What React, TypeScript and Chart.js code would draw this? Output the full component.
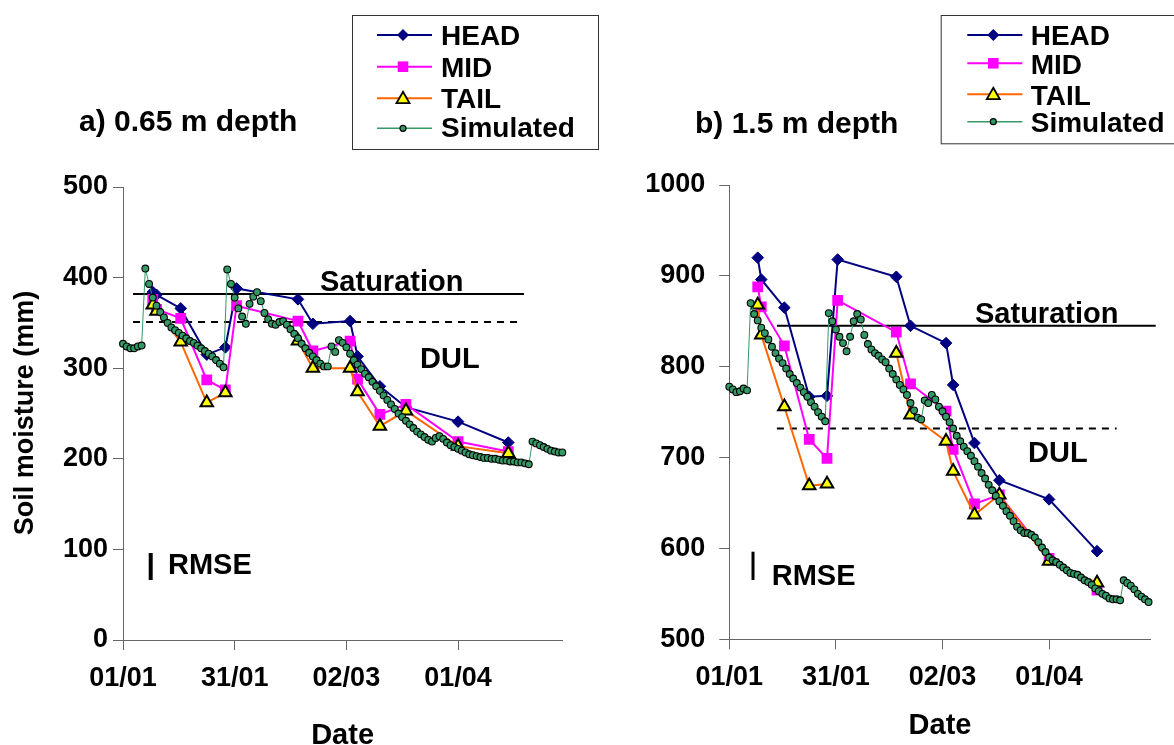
import React, { useEffect, useRef } from 'react';
import { Chart, registerables } from 'chart.js';

Chart.register(...registerables);

// ---------------- DATA ----------------
// day offsets from 01/01
const measDays = [8, 9, 15.5, 22.5, 27.5, 30.5, 47, 51, 61, 63, 69, 76, 90, 103.5];

// a) 0.65 m depth
const headA = [384, 381, 366, 315, 323, 388, 376, 349, 352, 313, 280, 257, 241, 218];
const midA = [376, 365, 355, 287, 276, 369, 352, 319, 330, 288, 249, 260, 219, 208];
const tailA = [370, 363, 329, 262, 273, null, 330, 300, 300, 274, 236, 253, 214, 206];
const simA = [
  327, 324, 322, 322, 324, 325, 410, 393, 378, 369, 362, 356, 350, 345, 342, 339, 336, 333, 330, 328,
  325, 322, 319, 316, 313, 309, 305, 301, 409, 393, 378, 366, 357, 349, 371, 379, 384, 374, 361, 354,
  349, 348, 351, 352, 348, 343, 338, 333, 327, 322, 317, 313, 309, 305, 302, 302, 324, 318, 331, 328,
  323, 316, 309, 304, 299, 294, 290, 285, 280, 275, 270, 265, 260, 255, 250, 246, 242, 238, 234, 230,
  227, 224, 221, 219, 223, 225, 222, 218, 215, 213, 211, 209, 207, 205, 204, 203, 202, 201, 201, 200,
  200, 199, 198, 198, 197, 197, 196, 196, 195, 194, 219, 217, 215, 213, 211, 209, 208, 207, 207, 205,
  204,
];
const satA = 382;
const dulA = 351;
const satSpanA = [2.7, 107.7];
const dulSpanA = [2.7, 106.4];

// b) 1.5 m depth
const headB = [920, 896, 865, 767, 768, 918, 899, 845, 826, 780, 716, 675, 654, 597];
const midB = [888, 866, 823, 720, 699, 873, 838, 781, 751, 709, 649, 659, 589, 554];
const tailB = [868, 835, 756, 669, 671, null, 815, 747, 718, 685, 637, 659, 586, 562];
const simB = [
  778, 775, 772, 773, 776, 774, 870, 858, 851, 843, 837, 830, 822, 815, 809, 804, 798, 792, 787, 782,
  777, 772, 767, 761, 756, 750, 745, 740, 859, 850, 841, 833, 826, 817, 833, 850, 858, 852, 835, 825,
  819, 815, 812, 808, 805, 798, 792, 786, 780, 775, 769, 760, 752, 744, 742, 763, 760, 769, 764, 756,
  751, 745, 739, 732, 724, 718, 712, 707, 702, 696, 690, 683, 677, 670, 664, 658, 652, 647, 641, 636,
  630, 624, 620, 617, 617, 615, 612, 607, 601, 596, 590, 587, 585, 582, 579, 576, 573, 572, 571, 568,
  565, 563, 560, 556, 553, 550, 548, 545, 544, 544, 543, 565, 562, 559, 555, 550, 547, 544, 541, 538,
  536,
];
const satB = 845;
const dulB = 732;
const satSpanB = [13.4, 120];
const dulSpanB = [13.4, 109];

const tickDays = [0, 30, 60, 90];
const tickLabels = ['01/01', '31/01', '02/03', '01/04'];
const seriesNames = ['HEAD', 'MID', 'TAIL', 'Simulated'];

// ---------------- STYLE ----------------
const FONT = '"Liberation Sans", Arial, Helvetica, sans-serif';
const NAVY = '#000080';
const MAG = '#FF00FF';
const ORANGE = '#FF6600';
const YELLOW = '#FFFF00';
const GREEN = '#339966';
const AXIS = '#666666';

type Row = { marker: string; color: string; fill: string; border: string; lw: number; r: number; cy: number; by: number };

function drawMarker(ctx: CanvasRenderingContext2D, kind: string, x: number, y: number, r: number, fill: string, border: string, bw: number) {
  ctx.beginPath();
  if (kind === 'diamond') {
    ctx.moveTo(x - r, y);
    ctx.lineTo(x, y - r);
    ctx.lineTo(x + r, y);
    ctx.lineTo(x, y + r);
    ctx.closePath();
  } else if (kind === 'square') {
    ctx.rect(x - r, y - r, 2 * r, 2 * r);
  } else if (kind === 'triangle') {
    ctx.moveTo(x, y - r);
    ctx.lineTo(x + 0.866 * r, y + 0.5 * r);
    ctx.lineTo(x - 0.866 * r, y + 0.5 * r);
    ctx.closePath();
  } else {
    ctx.arc(x, y, r, 0, Math.PI * 2);
  }
  ctx.fillStyle = fill;
  ctx.fill();
  if (bw > 0) {
    ctx.lineWidth = bw;
    ctx.strokeStyle = border;
    ctx.stroke();
  }
}

interface PanelSpec {
  head: (number | null)[];
  mid: (number | null)[];
  tail: (number | null)[];
  sim: number[];
  sat: number;
  dul: number;
  satSpan: number[];
  dulSpan: number[];
  yMin: number;
  yMax: number;
  xMax: number;
  yAxisWidth: number;
  tickPad: number;
  padTop: number;
  padRight: number;
  xAxisHeight: number;
  title: { text: string; x: number; y: number };
  legend: { x: number; y: number; w: number; h: number; l0: number; l1: number; mx: number; tx: number; cys: number[]; bys: number[] };
  labels: { t: string; x: number; y: number }[];
  rmse: { x: number; y0: number; y1: number; w: number; tx: number; ty: number };
  xTitle: { x: number; y: number };
  yTitle?: { x: number; y: number };
}

function buildConfig(p: PanelSpec): any {
  const pts = (vals: (number | null)[]) => measDays.map((d, i) => ({ x: d, y: vals[i] }));
  const simPts = p.sim.map((v, i) => ({ x: i, y: v }));
  const seg = (span: number[], v: number) => span.map((x) => ({ x, y: v }));

  const deco = {
    id: 'deco',
    afterDraw(chart: any) {
      const ctx: CanvasRenderingContext2D = chart.ctx;
      ctx.save();
      ctx.fillStyle = '#000';
      ctx.textBaseline = 'alphabetic';
      ctx.textAlign = 'left';
      // title
      ctx.font = `bold 30px ${FONT}`;
      ctx.fillText(p.title.text, p.title.x, p.title.y);
      // labels
      ctx.font = `bold 29px ${FONT}`;
      p.labels.forEach((l) => ctx.fillText(l.t, l.x, l.y));
      // RMSE
      ctx.fillText('RMSE', p.rmse.tx, p.rmse.ty);
      ctx.beginPath();
      ctx.lineWidth = p.rmse.w;
      ctx.strokeStyle = '#000';
      ctx.moveTo(p.rmse.x, p.rmse.y0);
      ctx.lineTo(p.rmse.x, p.rmse.y1);
      ctx.stroke();
      // x title
      ctx.textAlign = 'center';
      ctx.fillText('Date', p.xTitle.x, p.xTitle.y);
      // y title
      if (p.yTitle) {
        ctx.save();
        ctx.translate(p.yTitle.x, p.yTitle.y);
        ctx.rotate(-Math.PI / 2);
        ctx.textBaseline = 'middle';
        ctx.font = `bold 27px ${FONT}`;
        ctx.fillText('Soil moisture (mm)', 0, 0);
        ctx.restore();
      }
      // legend
      const L = p.legend;
      ctx.fillStyle = '#fff';
      ctx.fillRect(L.x, L.y, L.w, L.h);
      ctx.lineWidth = 1;
      ctx.strokeStyle = '#333';
      ctx.strokeRect(L.x + 0.5, L.y + 0.5, L.w, L.h);
      const rows: Row[] = [
        { marker: 'diamond', color: NAVY, fill: NAVY, border: NAVY, lw: 2, r: 6, cy: L.cys[0], by: L.bys[0] },
        { marker: 'square', color: MAG, fill: MAG, border: MAG, lw: 2, r: 5.3, cy: L.cys[1], by: L.bys[1] },
        { marker: 'triangle', color: ORANGE, fill: YELLOW, border: '#000', lw: 2, r: 7.5, cy: L.cys[2], by: L.bys[2] },
        { marker: 'circle', color: GREEN, fill: GREEN, border: '#000', lw: 1.5, r: 3, cy: L.cys[3], by: L.bys[3] },
      ];
      rows.forEach((r, i) => {
        ctx.beginPath();
        ctx.lineWidth = r.lw;
        ctx.strokeStyle = r.color;
        ctx.moveTo(L.l0, r.cy);
        ctx.lineTo(L.l1, r.cy);
        ctx.stroke();
        const bw = r.marker === 'triangle' ? 1.8 : r.marker === 'circle' ? 1.2 : 0;
        drawMarker(ctx, r.marker, L.mx, r.marker === 'triangle' ? r.cy + 1 : r.cy, r.r, r.fill, r.border, bw);
        ctx.fillStyle = '#000';
        ctx.textAlign = 'left';
        ctx.font = `bold 28px ${FONT}`;
        ctx.fillText(seriesNames[i], L.tx, r.by);
      });
      ctx.restore();
    },
  };

  return {
    type: 'line',
    data: {
      datasets: [
        { label: 'Saturation', data: seg(p.satSpan, p.sat), borderColor: '#000', borderWidth: 2, pointRadius: 0, clip: false, order: 10 },
        { label: 'DUL', data: seg(p.dulSpan, p.dul), borderColor: '#000', borderWidth: 2, borderDash: [7, 6], pointRadius: 0, clip: false, order: 10 },
        {
          label: seriesNames[0], data: pts(p.head), borderColor: NAVY, borderWidth: 2, pointStyle: 'rectRot', pointRadius: 5.8,
          pointBackgroundColor: NAVY, pointBorderColor: NAVY, pointBorderWidth: 1, order: 4,
        },
        {
          label: seriesNames[1], data: pts(p.mid), borderColor: MAG, borderWidth: 2, pointStyle: 'rect', pointRadius: 7.6,
          pointBackgroundColor: MAG, pointBorderColor: MAG, pointBorderWidth: 0, order: 3,
        },
        {
          label: seriesNames[2], data: pts(p.tail), borderColor: ORANGE, borderWidth: 2, pointStyle: 'triangle', pointRadius: 7.2,
          pointBackgroundColor: YELLOW, pointBorderColor: '#000', pointBorderWidth: 2, order: 2,
        },
        {
          label: seriesNames[3], data: simPts, borderColor: GREEN, borderWidth: 1, pointStyle: 'circle',
          pointRadius: (c: any) => (c.raw && c.raw.x > p.xMax ? 0 : 3.4),
          pointBackgroundColor: GREEN, pointBorderColor: '#000', pointBorderWidth: 1.1, clip: false, order: 1,
        },
      ],
    },
    options: {
      responsive: false,
      maintainAspectRatio: false,
      animation: false,
      devicePixelRatio: 1,
      events: [],
      layout: { autoPadding: false, padding: { left: 0, top: p.padTop, right: p.padRight, bottom: 0 } },
      elements: { line: { tension: 0 } },
      plugins: { legend: { display: false }, tooltip: { enabled: false }, title: { display: false } },
      scales: {
        x: {
          type: 'linear',
          min: 0,
          max: p.xMax,
          afterFit: (s: any) => { s.height = p.xAxisHeight; },
          afterBuildTicks: (s: any) => { s.ticks = tickDays.map((v) => ({ value: v })); },
          grid: { drawOnChartArea: false, drawTicks: true, tickLength: 10, color: AXIS, lineWidth: 1 },
          border: { display: true, color: AXIS, width: 1 },
          ticks: {
            autoSkip: false, maxRotation: 0, padding: 12, color: '#000',
            font: { family: FONT, size: 27, weight: 'bold' },
            callback: (v: any) => { const i = tickDays.indexOf(Number(v)); return i >= 0 ? tickLabels[i] : ''; },
          },
        },
        y: {
          type: 'linear',
          min: p.yMin,
          max: p.yMax,
          afterFit: (s: any) => { s.width = p.yAxisWidth; },
          grid: { drawOnChartArea: false, drawTicks: true, tickLength: 10, color: AXIS, lineWidth: 1 },
          border: { display: true, color: AXIS, width: 1 },
          ticks: {
            stepSize: 100, padding: p.tickPad, color: '#000',
            font: { family: FONT, size: 27, weight: 'bold' },
            callback: (v: any) => String(v),
          },
        },
      },
    },
    plugins: [deco],
  };
}

const OFF = 640; // page x of right canvas

const panelA: PanelSpec = {
  head: headA, mid: midA, tail: tailA, sim: simA, sat: satA, dul: dulA, satSpan: satSpanA, dulSpan: dulSpanA,
  yMin: 0, yMax: 500, xMax: 118,
  yAxisWidth: 123, tickPad: 5, padTop: 187, padRight: 640 - 562.3, xAxisHeight: 105,
  title: { text: 'a) 0.65 m depth', x: 79, y: 131 },
  legend: { x: 352, y: 15, w: 246, h: 134, l0: 377, l1: 432, mx: 403, tx: 441, cys: [35, 66.7, 98.3, 128.3], bys: [45, 76.7, 108.3, 136.7] },
  labels: [
    { t: 'Saturation', x: 320, y: 290.5 },
    { t: 'DUL', x: 420, y: 368.3 },
  ],
  rmse: { x: 150.7, y0: 553, y1: 580, w: 4, tx: 168, ty: 574.3 },
  xTitle: { x: 342.6, y: 744 },
  yTitle: { x: 26, y: 413 },
};

const panelB: PanelSpec = {
  head: headB, mid: midB, tail: tailB, sim: simB, sat: satB, dul: dulB, satSpan: satSpanB, dulSpan: dulSpanB,
  yMin: 500, yMax: 1000, xMax: 118.6,
  yAxisWidth: 89.3, tickPad: 14, padTop: 185, padRight: 1174 - 1150.7, xAxisHeight: 745 - 639.3,
  title: { text: 'b) 1.5 m depth', x: 695 - OFF, y: 133 },
  legend: { x: 940.7 - OFF, y: 15, w: 300, h: 128.3, l0: 967.3 - OFF, l1: 1022.3 - OFF, mx: 993.3 - OFF, tx: 1030.7 - OFF, cys: [35, 63.3, 94.3, 121.7], bys: [45, 74, 105, 131.7] },
  labels: [
    { t: 'Saturation', x: 975 - OFF, y: 323.3 },
    { t: 'DUL', x: 1028 - OFF, y: 461.7 },
  ],
  rmse: { x: 753 - OFF, y0: 551.7, y1: 580, w: 3, tx: 771.7 - OFF, ty: 585 },
  xTitle: { x: 940 - OFF, y: 734 },
};

function Panel({ spec, left, width }: { spec: PanelSpec; left: number; width: number }) {
  const ref = useRef<HTMLCanvasElement>(null);
  useEffect(() => {
    if (!ref.current) return;
    const chart = new Chart(ref.current, buildConfig(spec));
    return () => chart.destroy();
  }, [spec]);
  return (
    <canvas
      ref={ref}
      width={width}
      height={745}
      style={{ position: 'absolute', left, top: 0, width, height: 745, display: 'block' }}
    />
  );
}

export default function App() {
  return (
    <div style={{ position: 'absolute', left: 0, top: 0, width: 1174, height: 745, background: '#fff', overflow: 'hidden' }}>
      <Panel spec={panelA} left={0} width={OFF} />
      <Panel spec={panelB} left={OFF} width={1174 - OFF} />
    </div>
  );
}
